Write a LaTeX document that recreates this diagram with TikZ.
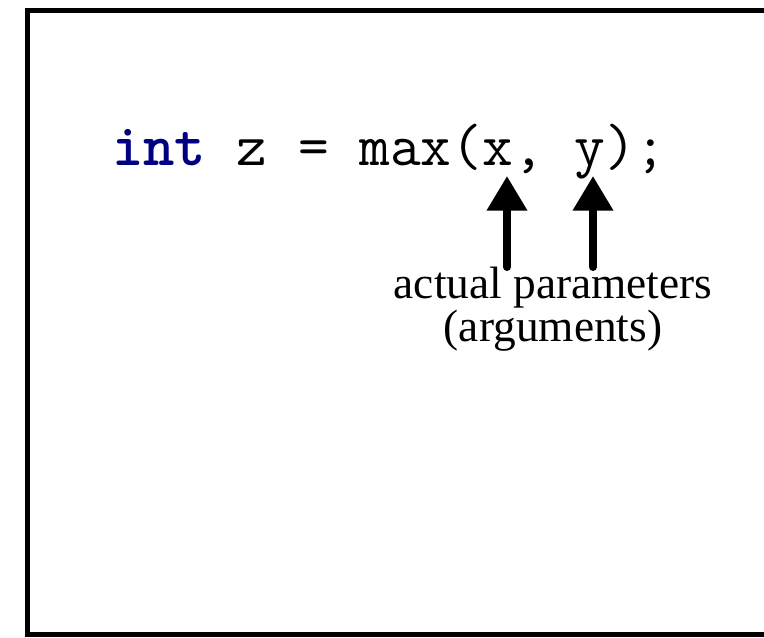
\documentclass[tikz,border=0pt]{standalone}
\usepackage{fontspec}
\setmainfont{Liberation Serif}
\usetikzlibrary{arrows.meta}
\definecolor{keyword}{RGB}{0,0,128}

\begin{document}
\begin{tikzpicture}[x=0.75pt,y=-0.75pt,
  argarrow/.style={line width=6pt,line cap=round,-{Triangle[width=29pt,length=26pt]}}]
\useasboundingbox (0,0) rectangle (764,637);
\draw[line width=3.75pt] (764,10) -- (27,10) -- (27,634) -- (764,634);
\node[anchor=base west,inner sep=0pt,font=\ttfamily\fontsize{44.7}{44.7}\selectfont] (code) at (112,165) {\textcolor{keyword}{\bfseries int} z = max(x, y);};
\node[anchor=north,inner sep=0pt,align=center,font=\fontsize{34}{32}\selectfont] (args) at (553,267) {actual parameters\\(arguments)};
\coordinate (xarg) at (507,176);
\coordinate (yarg) at (593,176);
\draw[argarrow] (args.north -| xarg) -- (xarg);
\draw[argarrow] (args.north -| yarg) -- (yarg);
\end{tikzpicture}
\end{document}
